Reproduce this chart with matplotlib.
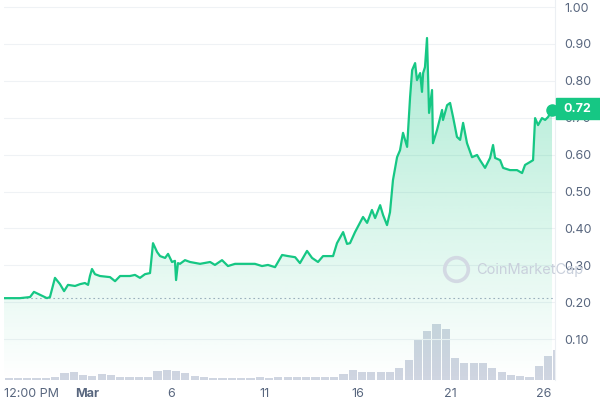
import matplotlib.pyplot as plt
import matplotlib.transforms as mtransforms
import numpy as np
from matplotlib.patches import Rectangle

plt.rcParams['font.family'] = ['Inter', 'DejaVu Sans']

# days since Feb 25 00:00 and price (USD)
days = [0.0, 0.86, 1.40, 1.61, 1.94, 2.31, 2.47, 2.74, 3.01, 3.23, 3.44, 3.82, 4.09, 4.35,
        4.52, 4.62, 4.73, 4.89, 5.16, 5.70, 5.97, 6.24, 6.77, 7.04, 7.31, 7.58, 7.85, 8.01,
        8.23, 8.39, 8.66, 8.82, 9.03, 9.19, 9.25, 9.35, 9.46, 9.73, 10.0, 10.54, 11.08, 11.34,
        11.72, 12.04, 12.42, 12.96, 13.49, 13.87, 14.19, 14.57, 14.95, 15.27, 15.65, 15.91,
        16.29, 16.56, 16.88, 17.15, 17.69, 17.90, 18.23, 18.44, 18.60, 18.87, 19.30, 19.52,
        19.78, 19.95, 20.22, 20.38, 20.59, 20.75, 20.91, 21.13, 21.29, 21.45, 21.67, 21.83,
        21.94, 22.10, 22.20, 22.37, 22.47, 22.53, 22.63, 22.74, 22.85, 23.01, 23.06, 23.28,
        23.55, 23.60, 23.82, 23.98, 24.14, 24.35, 24.52, 24.68, 24.89, 25.16, 25.43, 25.59,
        25.86, 26.13, 26.29, 26.40, 26.67, 26.83, 27.20, 27.58, 27.85, 28.01, 28.28, 28.44,
        28.55, 28.71, 28.92, 29.09, 29.25, 29.46]
prices = [0.211, 0.211, 0.214, 0.228, 0.220, 0.211, 0.214, 0.266, 0.249, 0.230, 0.247, 0.244,
          0.249, 0.252, 0.247, 0.271, 0.290, 0.276, 0.271, 0.268, 0.257, 0.271, 0.271, 0.274,
          0.266, 0.276, 0.279, 0.360, 0.336, 0.325, 0.320, 0.331, 0.309, 0.312, 0.260, 0.306,
          0.304, 0.314, 0.309, 0.304, 0.309, 0.301, 0.314, 0.298, 0.304, 0.304, 0.304, 0.298,
          0.301, 0.295, 0.328, 0.325, 0.322, 0.306, 0.339, 0.320, 0.309, 0.325, 0.325, 0.360,
          0.390, 0.358, 0.360, 0.390, 0.431, 0.415, 0.450, 0.428, 0.463, 0.436, 0.409, 0.444,
          0.531, 0.593, 0.612, 0.659, 0.621, 0.756, 0.829, 0.848, 0.802, 0.821, 0.770, 0.821,
          0.837, 0.916, 0.713, 0.775, 0.631, 0.667, 0.721, 0.694, 0.734, 0.740, 0.702, 0.648,
          0.640, 0.686, 0.631, 0.593, 0.599, 0.585, 0.564, 0.591, 0.626, 0.591, 0.585, 0.564,
          0.558, 0.558, 0.550, 0.572, 0.580, 0.585, 0.699, 0.680, 0.699, 0.694, 0.702, 0.721]

# volume per half day (relative units)
volume = [1.5, 1.5, 1.5, 2, 2, 2.5, 7, 8, 5, 4, 6, 5, 3, 2.5, 2.5, 3, 9, 10, 9, 7,
          4, 2.5, 2, 2, 2, 2, 2, 2.5, 2, 2.5, 2.5, 2.5, 2.5, 2.5, 2.5, 2.5, 6, 10, 8, 8,
          8, 8, 12, 20, 40, 48, 55, 50, 22, 17, 17, 17, 12, 8, 5, 3.5, 3, 14, 24, 29]

tick_days = [1.5, 4.45, 9, 14, 19, 24, 29]
tick_labels = ['12:00 PM', 'Mar', '6', '11', '16', '21', '26']
y_ticks = [0.1, 0.2, 0.3, 0.4, 0.5, 0.6, 0.7, 0.8, 0.9, 1.0]

green = '#16c784'
grey = '#58667e'

fig = plt.figure(figsize=(6, 4.07), dpi=100)
ax = fig.add_axes([4 / 600, 27 / 407, 551 / 600, 380 / 407])
ax.set_xlim(0, 29.62)
ax.set_ylim(-0.0108, 1.019)

# volume on its own scale
axv = ax.twinx()
axv.set_zorder(0)
ax.set_zorder(1)
ax.patch.set_visible(False)
vx = np.arange(len(volume)) * 0.5 + 0.25
axv.bar(vx, volume, width=0.44, color='#cfd5e1', zorder=1)
axv.set_ylim(0, 373)
axv.axis('off')

for t in y_ticks:
    ax.axhline(t, color='#eff2f5', lw=0.8, zorder=0)
ax.axhline(prices[0], color='#a6b0c3', lw=0.8, ls=(0, (1.5, 2.5)), zorder=1)

# gradient fill under the line
poly = ax.fill_between(days, prices, -0.0108, color='none', lw=0)
grad = np.zeros((256, 1, 4))
rgb = np.array([22, 199, 132]) / 255
grad[:, 0, :3] = rgb
grad[:, 0, 3] = np.linspace(0.36, 0.0, 256)
img = ax.imshow(grad, extent=[0, 29.62, -0.0108, 0.93], aspect='auto', zorder=2, origin='upper')
img.set_clip_path(poly.get_paths()[0], transform=ax.transData)

ax.plot(days, prices, color=green, lw=1.6, zorder=3, solid_joinstyle='round')
ax.plot(days[-1], prices[-1], 'o', color=green, ms=8, zorder=4, clip_on=False)

ax.set_xticks(tick_days)
ax.set_xticklabels(tick_labels)
ax.get_xticklabels()[1].set_fontweight('bold')
ax.set_yticks(y_ticks)
ax.set_yticklabels([f'{t:.2f}' for t in y_ticks])
ax.yaxis.tick_right()
ax.tick_params(axis='y', length=0, pad=7, labelsize=9, labelcolor=grey)
ax.tick_params(axis='x', length=0, pad=6, labelsize=9, labelcolor=grey)
for s in ['top', 'left', 'bottom']:
    ax.spines[s].set_visible(False)
ax.spines['right'].set_color('#eceff3')
ax.spines['right'].set_linewidth(0.8)

# current price tag
fig.add_artist(Rectangle((556 / 600, (407 - 119) / 407), 44 / 600, 21 / 407,
                         transform=fig.transFigure, color=green, zorder=5))
fig.text(563 / 600, (407 - 108.5) / 407, f'{prices[-1]:.2f}', color='white',
         fontsize=9, fontweight='bold', va='center', ha='left', zorder=6)

# watermark
ax.plot(0.82, 0.291, 'o', transform=ax.transAxes, ms=17, mfc='none', mec='#d3d9e3',
        mew=2.6, zorder=2, clip_on=False)
fig.text(476 / 600, (407 - 270) / 407, 'CoinMarketCap', color='#c9d0dc', fontsize=10.5,
         va='center', ha='left', zorder=2)

fig.savefig('out.png', dpi=100)
